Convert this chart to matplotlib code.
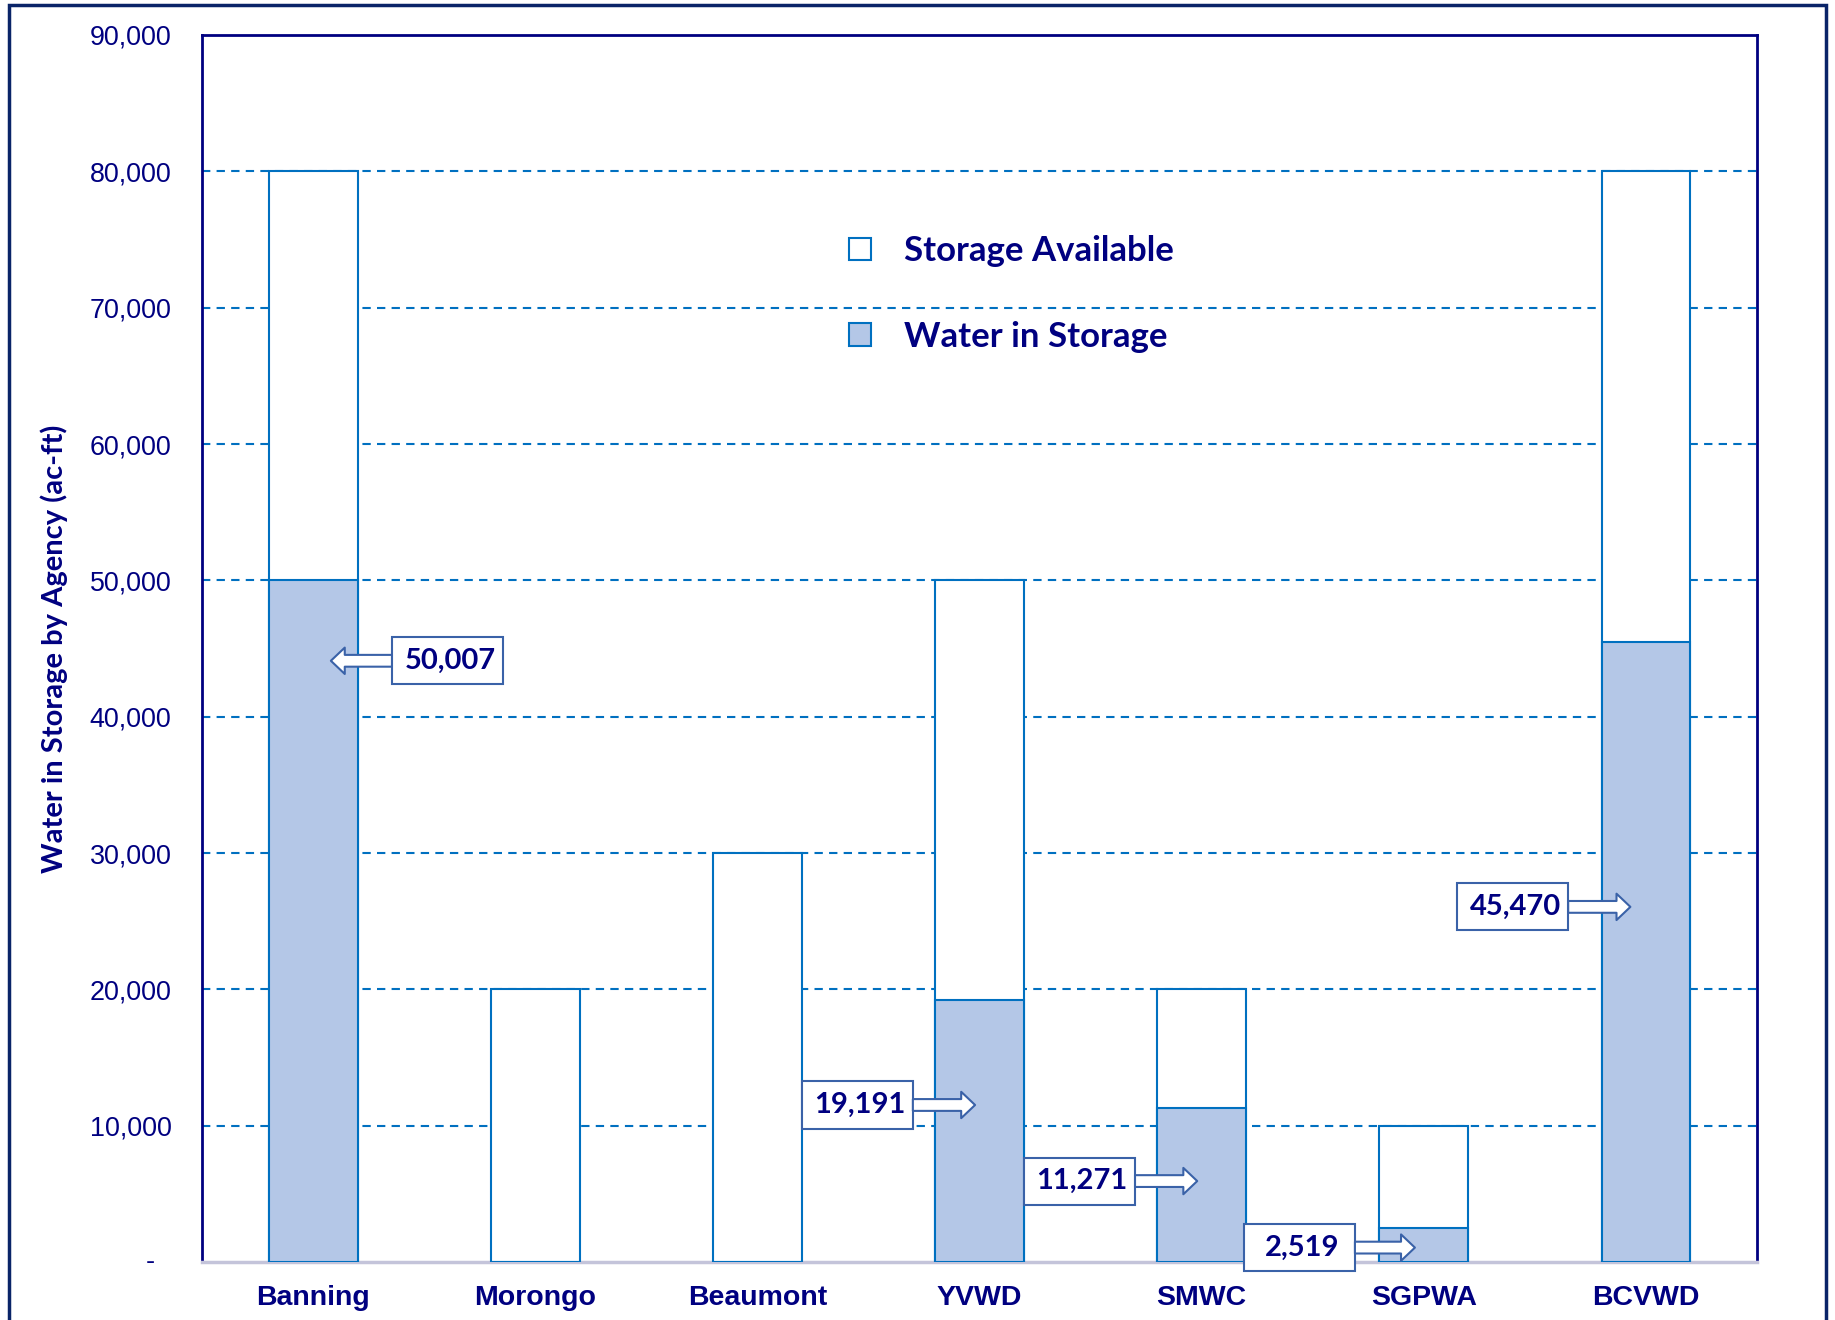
import numpy as np
import matplotlib
matplotlib.use('Agg')
import matplotlib.pyplot as plt
from matplotlib.patches import Rectangle, Patch

# ── data ─────────────────────────────────────────────────────────────────────
agencias  = ['Banning', 'Morongo', 'Beaumont', 'YVWD', 'SMWC', 'SGPWA', 'BCVWD']
capacidad = [80000, 20000, 30000, 50000, 20000, 10000, 80000]
en_agua   = [50007, 0, 0, 19191, 11271, 2519, 45470]

# callouts: (value shown, arrow y, box centre x, arrow tip x)
callouts = [
    (50007, 44100, 0.605, 0.08),
    (19191, 11520, 2.45, 2.98),
    (11271, 5940, 3.45, 3.98),
    (2519, 1060, 4.44, 4.96),
    (45470, 26050, 5.40, 5.93),
]

NAVY    = '#000080'
BLUE    = '#0070C0'
FILL    = '#B4C7E7'
BOXEDGE = '#3A62A8'
CALIBRI = ['Lato', 'DejaVu Sans']
ARIAL   = ['Liberation Sans', 'DejaVu Sans']

CAJA_W = 0.5      # callout box width (data units)
CAJA_H = 3450     # callout box height (data units)

fig = plt.figure(figsize=(18.35, 13.2), dpi=100, facecolor='white')
ax = fig.add_axes([0.1101, 0.0439, 0.8474, 0.9296])

x = np.arange(len(agencias))
ancho = 0.4

# storage available (capacity outline) then water in storage
ax.bar(x, capacidad, width=ancho, color='white', edgecolor=BLUE,
       linewidth=1.5, zorder=3)
ax.bar(x, en_agua, width=ancho, color=FILL, edgecolor=BLUE,
       linewidth=1.5, zorder=4)

ax.set_xlim(-0.5, len(agencias) - 0.5)
ax.set_ylim(0, 90000)

yt = np.arange(0, 90001, 10000)
ax.set_yticks(yt)
ax.set_yticklabels([''] + [f'{v:,}' for v in yt[1:]],
                   fontsize=19.4, color=NAVY, family=ARIAL)
ax.annotate('-', xy=(0, 0), xycoords=('axes fraction', 'data'),
            xytext=(-34, 0), textcoords='offset points',
            ha='right', va='center', fontsize=19.4, color=NAVY, family=ARIAL)
ax.tick_params(axis='y', length=0, pad=22)

ax.set_xticks(x)
ax.set_xticklabels(agencias, fontsize=20.5, fontweight='bold', color=NAVY,
                   family=ARIAL)
ax.tick_params(axis='x', length=0, pad=16.5)

for yv in yt[1:-1]:
    ax.axhline(yv, color=BLUE, linewidth=1.5, linestyle=(0, (4, 3)), zorder=1)

for side in ['left', 'top', 'right']:
    ax.spines[side].set_color(NAVY)
    ax.spines[side].set_linewidth(2)
ax.spines['bottom'].set_color('#C4C4DA')
ax.spines['bottom'].set_linewidth(2.5)

ax.set_ylabel('Water in Storage by Agency (ac-ft)', fontsize=21,
              fontweight='bold', color=NAVY, family=CALIBRI)
ax.yaxis.set_label_coords(-0.086, 0.5)

# ── legend ───────────────────────────────────────────────────────────────────
handles = [Patch(facecolor='white', edgecolor=BLUE, linewidth=1.5),
           Patch(facecolor=FILL, edgecolor=BLUE, linewidth=1.5)]
leg = ax.legend(handles, ['Storage Available', 'Water in Storage'],
                loc='upper left', bbox_to_anchor=(0.405, 0.851),
                frameon=False, handlelength=0.63, handleheight=0.63,
                handletextpad=0.95, labelspacing=1.55, borderpad=0,
                prop={'family': CALIBRI, 'weight': 'bold', 'size': 25})
for t in leg.get_texts():
    t.set_color(NAVY)

# ── callouts ─────────────────────────────────────────────────────────────────
for val, y_flecha, x_caja, x_punta in callouts:
    ax.add_patch(Rectangle((x_caja - CAJA_W / 2, y_flecha - CAJA_H / 2),
                           CAJA_W, CAJA_H, facecolor='white',
                           edgecolor=BOXEDGE, linewidth=1.5, zorder=6,
                           clip_on=False))
    ax.text(x_caja + 0.012, y_flecha, f'{val:,}', ha='center', va='center',
            fontsize=21, fontweight='bold', color=NAVY, family=CALIBRI,
            zorder=7)
    borde = x_caja + CAJA_W / 2 if x_punta > x_caja else x_caja - CAJA_W / 2
    ax.annotate('', xy=(x_punta, y_flecha), xytext=(borde, y_flecha),
                zorder=6, annotation_clip=False,
                arrowprops=dict(arrowstyle='simple,head_width=1.9,'
                                           'head_length=1.0,tail_width=0.85',
                                fc='white', ec=BOXEDGE, lw=1.5,
                                mutation_scale=10, shrinkA=0, shrinkB=0))

# outer frame
fig.patches.append(Rectangle((9 / 1835, -0.05), (1826 - 9) / 1835,
                             1.05 - 5 / 1320, transform=fig.transFigure,
                             fill=False, edgecolor='#0A2468', linewidth=2.5))

fig.savefig('out.png', dpi=100, facecolor='white')
